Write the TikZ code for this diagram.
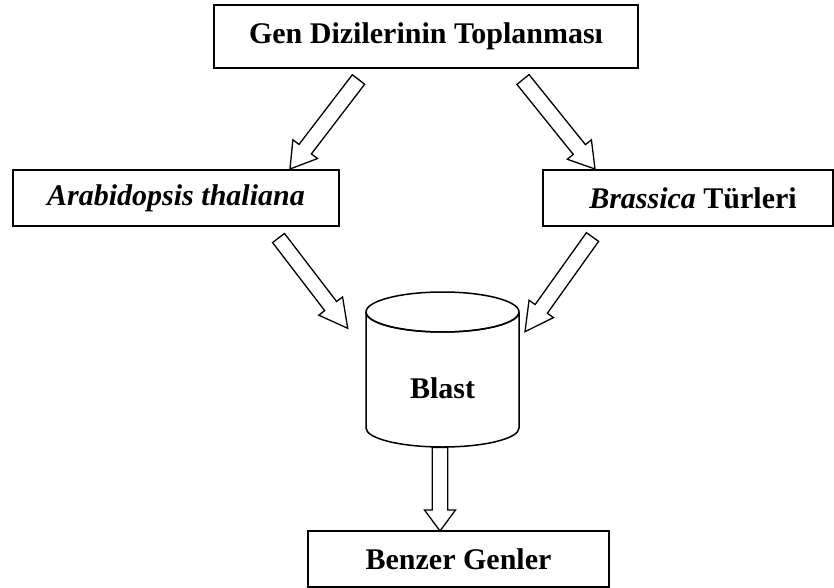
\documentclass[tikz,border=0pt]{standalone}
\usepackage{fontspec}
\setmainfont{Liberation Serif}
\usetikzlibrary{calc}
\tikzset{
  box/.style={draw, line width=2pt, inner sep=0pt, font=\fontsize{30}{35}\selectfont\bfseries},
  barrow/.style={draw, line width=1.3pt, fill=white, line join=miter},
  cyl/.style={draw, line width=1.5pt},
  lbl/.style={font=\fontsize{30}{35}\selectfont\bfseries, inner sep=0pt}
}
% tail, tip, shaft half width, head half width, head length
\newcommand{\blockarrow}[5]{%
  \path ($(#2)!#5!(#1)$) coordinate (bh);
  \draw[barrow] ($(#1)!#3!90:(#2)$) -- ($(bh)!#3!90:(#2)$) -- ($(bh)!#4!90:(#2)$) -- (#2)
     -- ($(bh)!#4!-90:(#2)$) -- ($(bh)!#3!-90:(#2)$) -- ($(#1)!#3!-90:(#2)$) -- cycle;
}
\begin{document}
\begin{tikzpicture}[x=1pt,y=-1pt]
\useasboundingbox (0,0) rectangle (834,588);

\node[box, minimum width=424pt, minimum height=63pt] (top) at (426,36.5) {Gen Dizilerinin Toplanması};
\node[box, minimum width=326pt, minimum height=56pt] (ara) at (176,198) {\raisebox{-2pt}{\itshape Arabidopsis thaliana}};
\node[box, minimum width=290pt, minimum height=56pt] (bra) at (688,198) {\hspace*{10pt}\textit{Brassica} Türleri};
\node[box, minimum width=301pt, minimum height=56pt] (ben) at (458.5,559) {Benzer Genler};

% cylinder
\draw[cyl] (366,428) -- (366,312) arc[start angle=180, end angle=360, x radius=76.5pt, y radius=20pt]
   -- (519,428) arc[start angle=0, end angle=-180, x radius=76.5pt, y radius=19pt];
\draw[cyl] (442.5,312) ellipse [x radius=76.5pt, y radius=20pt];
\node[lbl] (blast) at (442.5,388) {Blast};

% arrow end points
\coordinate (t1) at (358.5,79.5);  \coordinate (h1) at (290,169);
\coordinate (t2) at (523,79.5);    \coordinate (h2) at (595,169);
\coordinate (t3) at (278.5,238);   \coordinate (h3) at (347.7,328.3);
\coordinate (t4) at (592.5,237);   \coordinate (h4) at (525,331.7);
\coordinate (t5) at (440,447.5);   \coordinate (h5) at (440,531);

\blockarrow{t1}{h1}{7.8pt}{15.5pt}{25pt}
\blockarrow{t2}{h2}{7.8pt}{15.5pt}{25pt}
\blockarrow{t3}{h3}{7.5pt}{15pt}{28pt}
\blockarrow{t4}{h4}{7.5pt}{15pt}{28pt}
\blockarrow{t5}{h5}{7.8pt}{15.5pt}{21pt}
\end{tikzpicture}
\end{document}
